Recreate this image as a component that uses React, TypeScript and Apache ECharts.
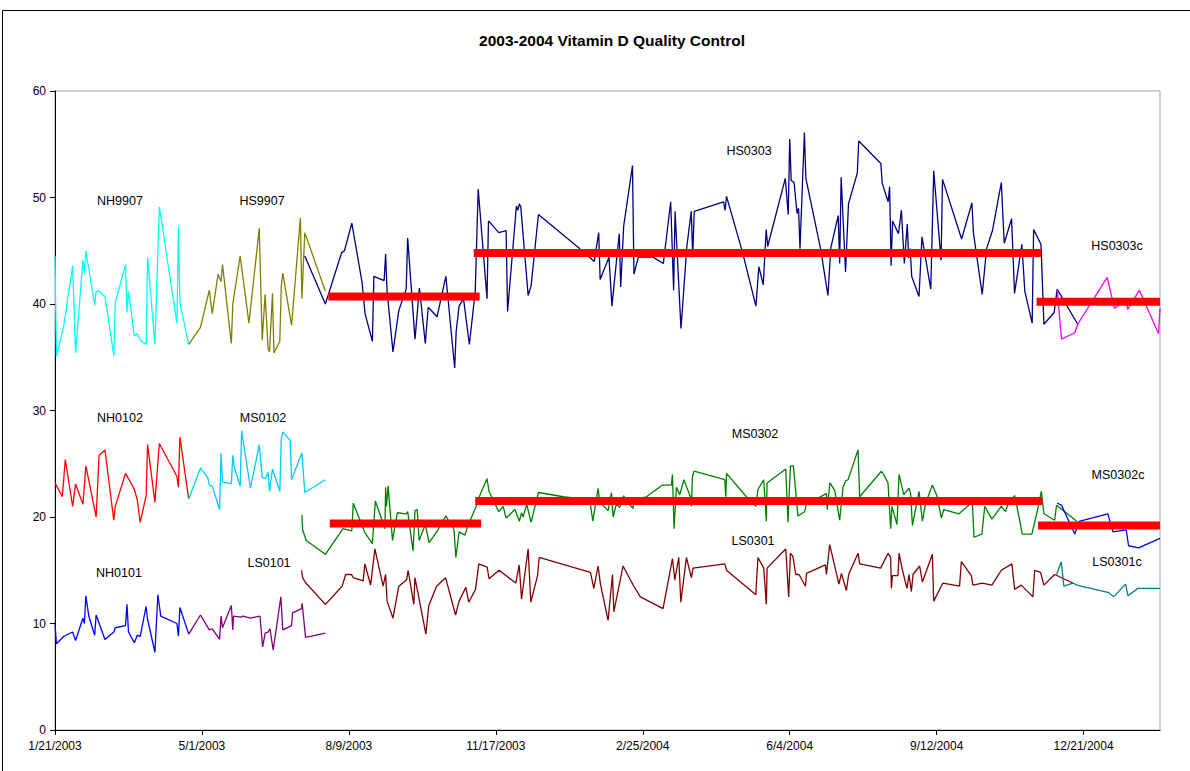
import React, { useEffect, useRef } from "react";
import * as echarts from "echarts";

// x = days since 1/21/2003, y = vitamin D value
const NH9907 = [[0,44.5],[1,35.1],[6,38.0],[12,43.6],[14,35.4],[19,44.1],[20,42.9],[21,45.0],[27,39.9],[28,41.2],[30,41.2],[34,40.7],[40,35.2],[41,40.1],[48,43.7],[49,39.2],[50,41.2],[54,37.0],[56,37.2],[58,36.6],[62,36.2],[63,44.4],[68,36.2],[71,49.1],[83,38.2],[84,47.3],[85,40.1],[91,36.2]];
const HS9907 = [[91,36.2],[99,37.8],[105,41.3],[107,39.1],[111,42.8],[113,42.1],[114,43.7],[120,36.3],[121,40.0],[126,44.5],[132,38.2],[139,47.1],[141,36.6],[143,40.9],[145,35.8],[146,35.5],[148,41.0],[149,35.4],[153,36.5],[154,41.7],[155,42.9],[161,38.0],[167,48.1],[168,40.5],[170,46.7],[184,41.2]];
const HS0303 = [[170,44.5],[184,40.0],[195,44.8],[197,45.0],[202,47.6],[209,42.0],[211,39.1],[216,36.5],[217,42.6],[224,42.2],[225,44.7],[226,41.2],[230,35.5],[234,39.4],[239,41.4],[240,46.2],[245,36.7],[248,41.5],[252,36.3],[254,39.7],[260,38.8],[266,42.6],[272,34.0],[273,37.4],[275,39.8],[278,40.5],[282,36.2],[286,41.2],[288,50.8],[294,40.5],[295,47.8],[302,46.7],[307,46.9],[308,39.3],[314,49.2],[315,48.8],[316,49.4],[317,49.1],[322,40.8],[324,41.7],[329,48.4],[357,45.2],[367,44.0],[370,46.7],[371,42.3],[377,44.4],[379,39.8],[384,46.6],[385,41.6],[387,47.3],[393,53.0],[394,42.8],[397,44.4],[407,44.4],[414,43.8],[419,49.6],[421,41.3],[422,48.7],[426,37.7],[430,45.4],[433,48.7],[434,44.4],[435,48.7],[455,49.6],[456,48.8],[457,50.1],[468,44.8],[477,39.8],[479,43.5],[482,41.8],[484,47.0],[485,45.4],[497,51.8],[499,48.4],[500,55.5],[501,51.6],[503,51.4],[505,48.5],[506,49.0],[507,45.2],[510,56.1],[511,51.8],[521,45.2],[526,40.8],[528,45.3],[533,48.3],[534,43.8],[535,51.9],[538,43.0],[540,49.4],[546,52.3],[547,55.3],[562,53.2],[563,51.3],[567,49.6],[568,51.0],[569,43.6],[570,47.8],[574,46.6],[576,48.8],[578,43.8],[580,47.5],[581,44.3],[582,45.2],[583,42.6],[588,40.7],[590,46.3],[596,41.4],[598,52.5],[603,44.1],[604,51.7],[617,46.1],[624,49.5],[625,46.7],[631,40.9],[634,45.2],[638,46.9],[644,51.4],[646,45.7],[651,48.0],[653,41.0],[658,45.6],[660,41.2],[665,38.2],[666,47.0],[671,45.6],[673,38.1],[680,39.2],[682,41.4],[696,38.1]];
const HS0303c = [[682,41.4],[685,36.7],[694,37.3],[696,38.1],[716,42.5],[721,39.6],[723,39.8],[729,40.5],[730,39.5],[738,41.3],[751,37.2],[752,39.6]];
const NH0102 = [[0,23.2],[5,21.9],[7,25.4],[12,21.0],[14,23.1],[19,21.2],[21,24.8],[28,20.0],[30,25.8],[34,26.3],[40,19.7],[41,21.0],[48,24.1],[54,22.6],[56,21.6],[58,19.5],[62,22.0],[63,26.8],[68,21.4],[71,26.9],[83,23.8],[84,22.8],[85,27.5],[91,21.7]];
const MS0102 = [[91,21.7],[99,24.6],[104,23.7],[105,23.0],[107,22.9],[112,20.7],[113,26.0],[114,23.3],[120,23.1],[121,25.8],[122,24.7],[126,22.9],[127,28.1],[133,22.7],[139,26.8],[141,23.7],[143,23.6],[145,24.2],[146,22.4],[148,24.5],[153,22.4],[154,27.3],[155,28.0],[160,27.2],[161,23.5],[168,26.0],[170,22.3],[184,23.5]];
const MS0302 = [[168,20.2],[168.5,18.8],[171,17.8],[184,16.5],[196,18.9],[202,18.7],[203,21.3],[211,18.5],[216,17.5],[218,21.5],[222,19.9],[224.5,18.9],[225,22.8],[225.6,21.0],[226.7,22.9],[229.7,17.8],[233,20.4],[239,20.3],[240,20.5],[243.7,16.8],[245,20.6],[246.5,20.7],[247.8,17.8],[252,19.3],[254.6,17.6],[260.7,18.8],[266,20.1],[268,19.6],[270,19.4],[271.6,18.7],[272.8,16.2],[275,18.6],[279,18.3],[281,19.2],[287,21.1],[289,22.0],[294,23.6],[295.4,22.4],[302,20.5],[305,21.0],[307,19.9],[313,20.7],[316,19.6],[317.5,20.4],[318.6,20.0],[321,21.2],[324,19.5],[329,22.3],[346,21.9],[364,21.6],[366,19.6],[369.6,22.7],[370.7,21.4],[376.4,20.6],[378.7,22.3],[379.8,20.0],[382,21.2],[384.4,20.9],[387,22.0],[389,21.5],[393.4,20.8],[394,21.6],[402.5,21.9],[413.4,23.0],[419.5,23.0],[420.2,24.0],[421.3,18.9],[422.9,22.8],[425.2,22.1],[428,23.5],[432.4,21.9],[433.1,21.0],[433.8,23.8],[434.9,24.3],[455.8,23.5],[456.5,21.9],[457,24.1],[470.5,21.9],[477,21.0],[478.4,22.6],[482.3,23.5],[484.1,19.6],[484.6,23.2],[497.3,24.5],[498.8,19.5],[500.5,24.8],[502.5,24.8],[505.6,20.1],[510.2,20.5],[511.4,21.2],[524.9,22.2],[525.5,20.7],[527.4,23.2],[530.6,22.5],[534,19.7],[536.3,22.8],[538.1,23.4],[539.7,23.5],[546.5,26.3],[547.6,21.9],[562.4,24.3],[563.9,24.0],[566.9,23.2],[568.7,18.9],[569.6,21.0],[573,19.3],[574.4,24.0],[577.6,22.1],[581.2,22.7],[582.3,22.2],[583.5,19.2],[588,22.4],[590.3,19.6],[592.5,21.3],[597.1,23.0],[600.2,22.0],[603.2,19.9],[604.8,20.7],[615.2,20.3],[624.3,21.4],[625.4,18.1],[630.8,18.4],[632.7,21.0],[637.6,19.8],[644,21.0],[646.9,20.5],[648.5,21.2],[653.1,22.0],[654.2,21.3],[658.3,18.4],[664.8,18.4],[668.9,20.8],[671.2,22.4],[673,20.3],[680.3,19.7],[681.6,21.1],[695.4,19.6]];
const MS0302c = [[682,21.3],[685,21.1],[694,18.4],[697,19.6],[716.5,20.3],[720,18.6],[729,18.8],[730.6,17.3],[737.4,17.1],[752,18.0]];
const NH0101 = [[0,9.9],[1,8.1],[6,8.8],[12,9.2],[14,8.4],[19,10.5],[20,10.0],[21,12.6],[23,10.7],[27,8.9],[28,10.8],[34,8.5],[40,9.2],[41,9.6],[48,9.8],[49,11.8],[50,9.2],[54,8.2],[56,8.9],[58,8.8],[62,11.6],[63,10.4],[68,7.3],[70,12.7],[72,10.7],[83,10.0],[84,8.8],[85,11.5],[91,9.0]];
const LS0101 = [[91,9.0],[99,10.8],[105,9.4],[107,9.5],[112,8.5],[113,10.7],[114,9.6],[120,11.7],[121,9.4],[121.5,10.7],[126.5,10.6],[128,10.7],[132.7,10.5],[139.5,10.7],[141.3,7.8],[143,9.1],[145,9.2],[146.3,9.5],[148.5,7.5],[153.7,12.5],[155,9.4],[161,9.8],[161.7,11.0],[167.8,11.4],[168.2,11.9],[170.5,8.7],[184,9.1]];
const LS0301 = [[167.8,15.0],[168.5,14.3],[170.7,13.8],[184,11.8],[195.4,13.5],[197.8,14.6],[201.8,14.6],[202.9,14.3],[209.7,14.0],[210.9,15.6],[214.8,13.6],[217.7,17.0],[223.3,13.5],[225,14.6],[226,12.1],[230,10.5],[234,13.5],[239.3,14.1],[240.3,15.0],[244.2,11.8],[244.9,14.3],[247.1,12.8],[252.4,9.0],[254.4,11.7],[259.7,13.5],[265.8,14.3],[272.6,10.8],[275,12.1],[279.6,13.4],[281.6,12.0],[286.2,13.2],[288.4,15.6],[294.1,15.3],[295.4,14.2],[302.2,15.0],[313.6,13.8],[315.9,15.5],[317.5,12.3],[322,17.0],[323.8,12.0],[328.4,14.5],[329.5,16.2],[364.4,14.8],[366.7,13.3],[369.6,15.4],[371.2,13.7],[376.4,10.3],[379.4,14.6],[380.3,11.1],[386.6,15.4],[393.9,13.5],[398.4,12.5],[413.8,11.4],[420.2,16.1],[421.8,14.1],[424.5,16.2],[425.9,12.0],[429.7,16.2],[433.1,14.3],[434.2,15.2],[455.8,15.6],[457,15.0],[476.9,12.7],[478.4,16.2],[482.3,15.2],[484.1,11.8],[484.6,15.2],[497.3,17.0],[499.3,12.5],[500.5,16.6],[502.2,16.3],[504.1,14.6],[506.3,14.6],[510.7,13.5],[511.4,14.7],[524.3,15.5],[525,14.6],[527.2,17.4],[533.5,13.7],[535.2,14.7],[538.6,13.1],[540.1,14.6],[546.5,16.6],[547.6,15.6],[561.9,15.2],[566.9,16.6],[568.7,16.2],[569.2,13.3],[569.9,14.5],[573.7,14.5],[574.4,16.6],[576.4,15.2],[579.8,13.3],[581.2,14.6],[582.8,13.0],[583.9,14.6],[588.4,15.4],[590.3,13.9],[597.1,16.5],[598,12.1],[604.3,13.8],[615.6,13.5],[616.8,15.8],[623.6,14.5],[624.7,13.6],[631.1,13.8],[637.6,13.6],[644,15.0],[651.2,15.6],[653.1,13.2],[657.6,13.6],[665.5,12.5],[666.7,15.0],[670.7,14.8],[673,13.6],[680.3,14.6],[692.7,13.8]];
const LS0301c = [[681.6,14.6],[684.8,15.8],[686.6,13.5],[692.7,13.8],[695.4,13.6],[717.2,12.9],[720.4,12.5],[728.6,13.7],[730.2,12.6],[737,13.3],[752,13.3]];
// QC mean lines
const HS_MEANS = [[[186,40.7],[289,40.7]],[[285,44.8],[671,44.8]],[[668,40.2],[752,40.2]]];
const MS_MEANS = [[[187,19.4],[290,19.4]],[[286,21.5],[672,21.5]],[[669,19.2],[752,19.2]]];

const LABELS = [
  { text: "NH9907", x: 120, y: 201 },
  { text: "HS9907", x: 262, y: 201 },
  { text: "HS0303", x: 749, y: 151 },
  { text: "HS0303c", x: 1117, y: 246 },
  { text: "NH0102", x: 120, y: 418 },
  { text: "MS0102", x: 263, y: 418 },
  { text: "MS0302", x: 755, y: 434 },
  { text: "MS0302c", x: 1118, y: 475 },
  { text: "NH0101", x: 119, y: 573 },
  { text: "LS0101", x: 269, y: 563 },
  { text: "LS0301", x: 753, y: 541 },
  { text: "LS0301c", x: 1117, y: 562 },
];

const FONT = "'Liberation Sans', Arial, sans-serif";

function fmtDate(d: number) {
  const dt = new Date(Date.UTC(2003, 0, 21) + Math.round(d) * 86400000);
  return `${dt.getUTCMonth() + 1}/${dt.getUTCDate()}/${dt.getUTCFullYear()}`;
}

export default function App() {
  const ref = useRef<HTMLDivElement>(null);
  useEffect(() => {
    if (!ref.current) return;
    const chart = echarts.init(ref.current, undefined, { renderer: "svg" });
    const thin = (name: string, data: number[][], color: string) => ({
      name,
      type: "line",
      data,
      showSymbol: false,
      symbol: "none",
      lineStyle: { color, width: 1.3 },
      itemStyle: { color },
      z: 2,
      clip: true,
    });
    const thick = (data: number[][], i: number) => ({
      name: "mean" + i,
      type: "line",
      data,
      showSymbol: false,
      symbol: "none",
      lineStyle: { color: "#FF0000", width: 8, cap: "butt" },
      itemStyle: { color: "#FF0000" },
      z: 5,
      clip: true,
    });
    const series: any[] = [
      thin("NH9907", NH9907, "#00FFFF"),
      thin("HS9907", HS9907, "#808000"),
      thin("HS0303", HS0303, "#000080"),
      thin("HS0303c", HS0303c, "#FF00FF"),
      thin("NH0102", NH0102, "#FF0000"),
      thin("MS0102", MS0102, "#00CCFF"),
      thin("MS0302", MS0302, "#008000"),
      thin("MS0302c", MS0302c, "#0000FF"),
      thin("NH0101", NH0101, "#0000FF"),
      thin("LS0101", LS0101, "#800080"),
      thin("LS0301", LS0301, "#800000"),
      thin("LS0301c", LS0301c, "#008080"),
      ...HS_MEANS.map((d, i) => thick(d, i)),
      ...MS_MEANS.map((d, i) => thick(d, i + 3)),
    ];
    chart.setOption({
      animation: false,
      backgroundColor: "#ffffff",
      textStyle: { fontFamily: FONT },
      title: {
        text: "2003-2004 Vitamin D Quality Control",
        left: 607,
        top: 27,
        textAlign: "center",
        textStyle: { fontFamily: FONT, fontSize: 15.5, fontWeight: "bold", color: "#000" },
      },
      grid: {
        left: 55,
        top: 91,
        right: 30,
        bottom: 41,
        show: true,
        borderColor: "#a0a0a0",
        borderWidth: 1,
        backgroundColor: "transparent",
      },
      xAxis: {
        type: "value",
        min: 0,
        max: 752,
        interval: 100,
        axisLine: { show: true, lineStyle: { color: "#000", width: 1 } },
        axisTick: { show: true, length: 5, lineStyle: { color: "#000" } },
        splitLine: { show: false },
        axisLabel: {
          formatter: (v: number) => fmtDate(v),
          showMaxLabel: false,
          color: "#000",
          fontSize: 12,
          fontFamily: FONT,
          margin: 10,
        },
      },
      yAxis: {
        type: "value",
        min: 0,
        max: 60,
        interval: 10,
        axisLine: { show: true, lineStyle: { color: "#000", width: 1 } },
        axisTick: { show: true, length: 5, lineStyle: { color: "#000" } },
        splitLine: { show: false },
        axisLabel: { color: "#000", fontSize: 12, fontFamily: FONT, margin: 9 },
      },
      graphic: [
        {
          type: "rect",
          shape: { x: 2.5, y: 10.5, width: 1200, height: 800 },
          style: { fill: "none", stroke: "#000", lineWidth: 1 },
          silent: true,
          z: -10,
        },
        ...LABELS.map((l) => ({
          type: "text",
          x: l.x,
          y: l.y,
          style: {
            text: l.text,
            fill: "#000",
            font: `12.5px ${FONT}`,
            textAlign: "center",
            textVerticalAlign: "middle",
          },
          z: 10,
        })),
      ],
      series,
    });
    return () => chart.dispose();
  }, []);
  return (
    <div
      ref={ref}
      style={{ position: "absolute", left: 0, top: 0, width: 1190, height: 771 }}
    />
  );
}
